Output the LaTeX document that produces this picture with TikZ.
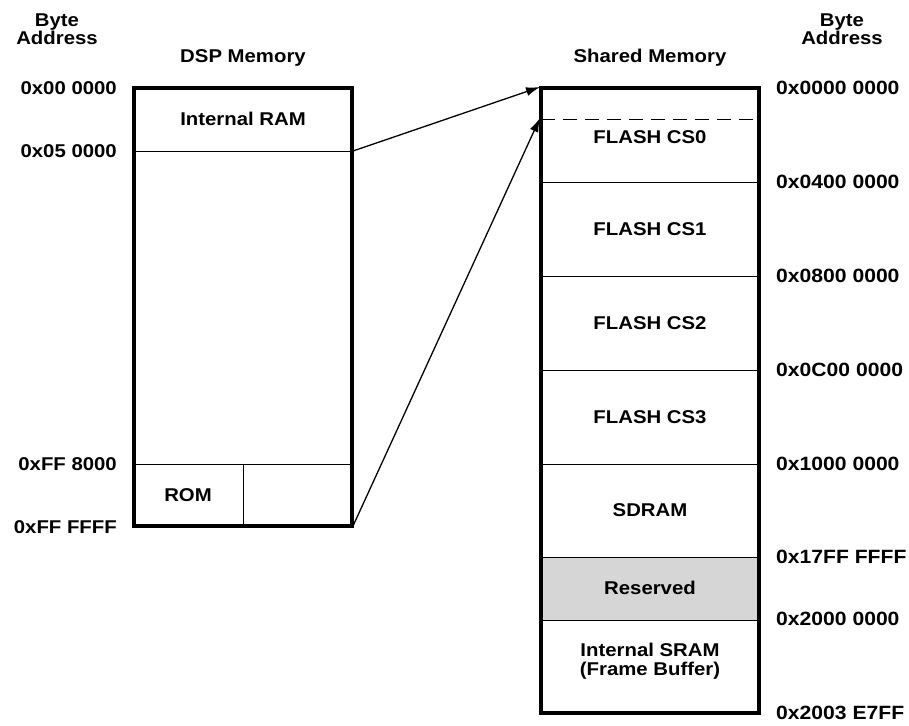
\documentclass[tikz,border=0pt]{standalone}
\usepackage{fontspec}
\setmainfont{Liberation Sans}[FakeStretch=1.1]
\usetikzlibrary{arrows.meta}
\begin{document}
\begin{tikzpicture}[x=1pt,y=-1pt,
  lbl/.style={inner sep=0pt,font=\fontsize{18.5}{21.5}\selectfont\bfseries,align=center},
  addrL/.style={lbl,anchor=east},
  addrR/.style={lbl,anchor=west,font=\fontsize{19.2}{22}\selectfont\bfseries},
  outer/.style={line width=3.5pt,line join=miter},
  inner/.style={line width=1pt},
  maparrow/.style={line width=1.3pt,-{Latex[length=14pt,width=9pt]}}]
\useasboundingbox (0,0) rectangle (909,725);
% reserved fill
\fill[black!16] (541,557) rectangle (759,620);
% DSP memory
\draw[inner] (134,151) -- (352,151);
\draw[inner] (134,464) -- (352,464);
\draw[inner] (243,464) -- (243,526);
\draw[outer] (134,88) rectangle (352,526);
\coordinate (dspA) at (353,151);
\coordinate (dspB) at (353,526);
% shared memory
\draw[inner,dash pattern=on 14pt off 8pt] (541,119) -- (759,119);
\foreach \yy in {182,276,370,464,557,620}
  \draw[inner] (541,\yy) -- (759,\yy);
\draw[outer] (541,88) rectangle (759,713);
\coordinate (shA) at (540,87);
\coordinate (shB) at (540,118);
% arrows
\draw[maparrow] (dspA) -- (shA);
\draw[maparrow] (dspB) -- (shB);
% headings
\node[lbl] (bal) at (57,29) {Byte\\[-3pt]Address};
\node[lbl] (bar) at (842,29) {Byte\\[-3pt]Address};
\node[lbl] (dsph) at (243,58) {DSP Memory};
\node[lbl] (shh) at (650,58) {Shared Memory};
% DSP contents
\node[lbl] (iram) at (243,119) {Internal RAM};
\node[lbl] (rom) at (188,495) {ROM};
% left addresses
\node[addrL] (la1) at (117,88) {0x00 0000};
\node[addrL] (la2) at (117,151) {0x05 0000};
\node[addrL] (la3) at (117,464) {0xFF 8000};
\node[addrL] (la4) at (117,527) {0xFF FFFF};
% shared contents
\node[lbl] (f0) at (650,137) {FLASH CS0};
\node[lbl] (f1) at (650,229) {FLASH CS1};
\node[lbl] (f2) at (650,323) {FLASH CS2};
\node[lbl] (f3) at (650,417) {FLASH CS3};
\node[lbl] (sd) at (650,510) {SDRAM};
\node[lbl] (rs) at (650,588) {Reserved};
\node[lbl] (sr) at (650,661) {Internal SRAM\\[-2pt](Frame Buffer)};
% right addresses
\node[addrR] (ra1) at (776,88) {0x0000 0000};
\node[addrR] (ra2) at (776,182) {0x0400 0000};
\node[addrR] (ra3) at (776,276) {0x0800 0000};
\node[addrR] (ra4) at (776,370) {0x0C00 0000};
\node[addrR] (ra5) at (776,464) {0x1000 0000};
\node[addrR] (ra6) at (776,557) {0x17FF FFFF};
\node[addrR] (ra7) at (776,619) {0x2000 0000};
\node[addrR] (ra8) at (776,713) {0x2003 E7FF};
\end{tikzpicture}
\end{document}
